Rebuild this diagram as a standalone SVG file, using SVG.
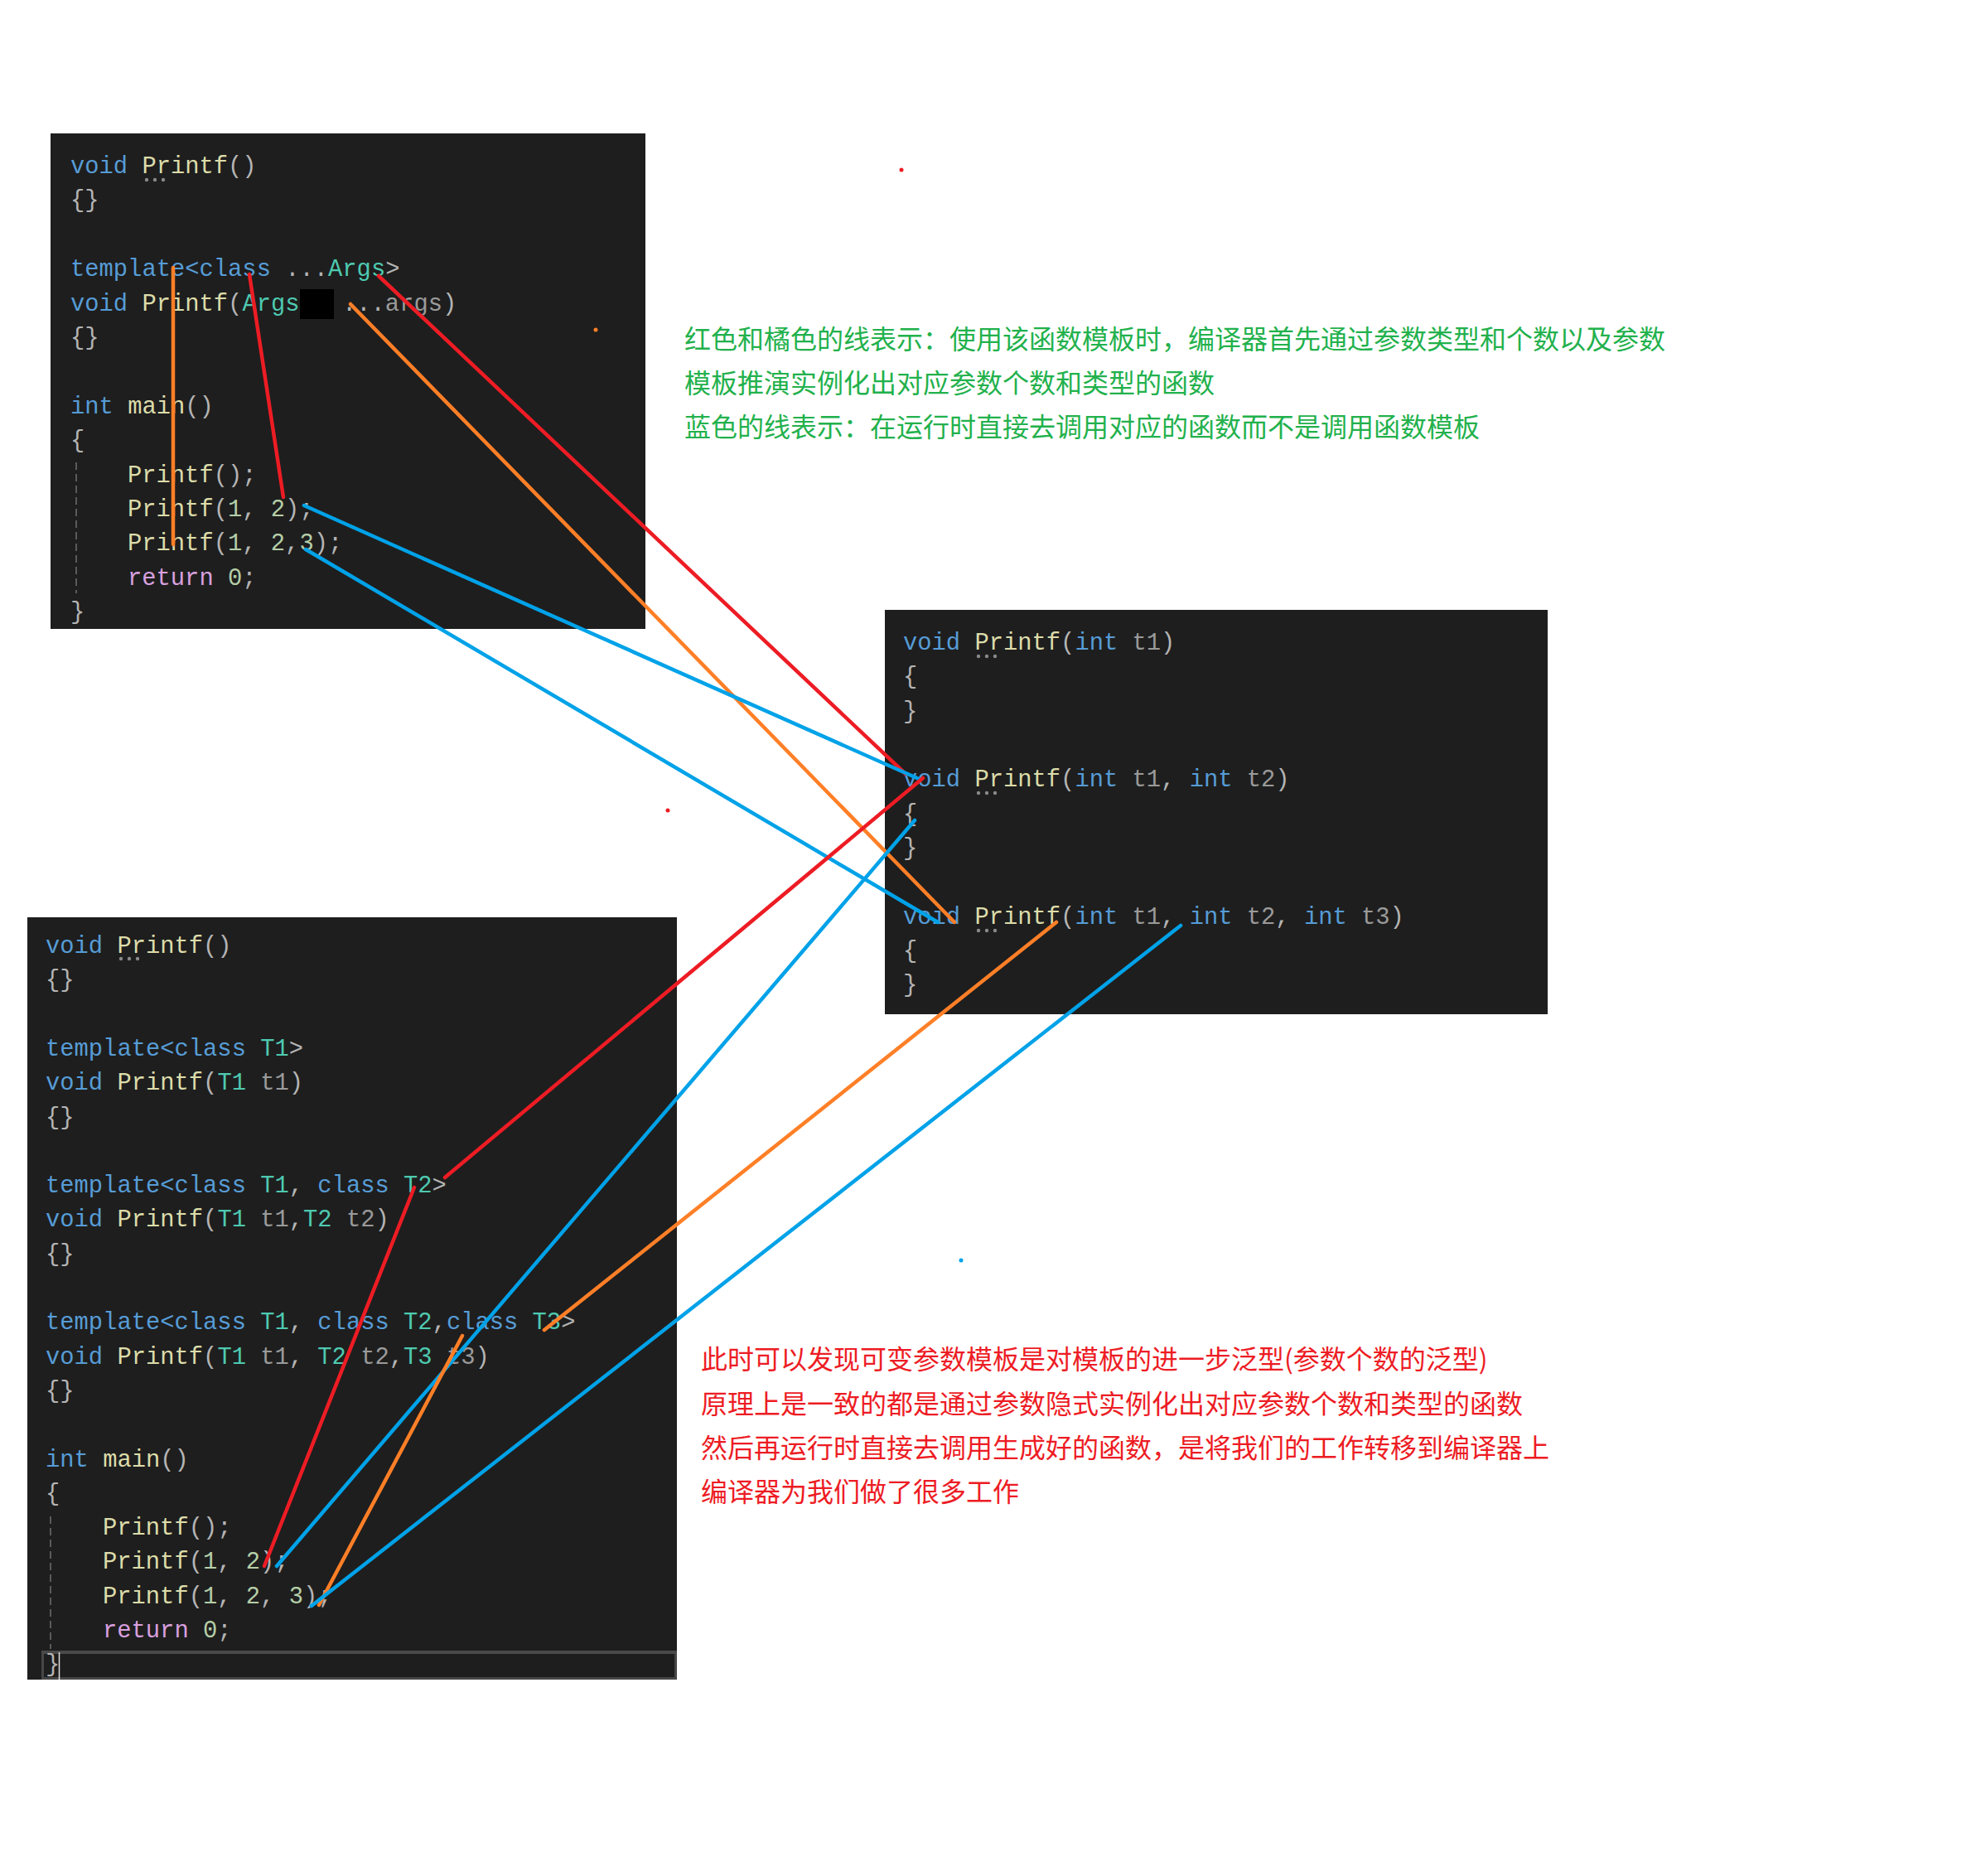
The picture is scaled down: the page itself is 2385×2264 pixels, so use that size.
<svg xmlns="http://www.w3.org/2000/svg" width="2385" height="2264" viewBox="0 0 2385 2264">
<style>
.code{font-family:"Liberation Mono","DejaVu Sans Mono",monospace;font-size:28.8px;fill:#b4b4b4}
.k{fill:#569cd6}.f{fill:#dcdcaa}.t{fill:#4ec9b0}.p{fill:#9a9a9a}.n{fill:#b5cea8}.r{fill:#d8a0df}
.bg{fill:#1e1e1e}
.dot{fill:#8a8a8a}
.guide{stroke:#5a5a5a;stroke-width:2;stroke-dasharray:9 5;fill:none}
.note{font-family:"Noto Sans CJK SC","Noto Sans",sans-serif;font-size:32px}
.green{fill:#22b14c}.red{fill:#ed1c24}
.ln{fill:none;stroke-width:4.5;stroke-linecap:round}
.lr{stroke:#ed1c24}.lo{stroke:#ff7f27}.lb{stroke:#00a2e8}
</style>
<rect width="2385" height="2264" fill="#ffffff"/>

<g id="code-variadic">
<rect class="bg" x="61" y="161" width="718" height="598"/>
<circle class="dot" cx="177" cy="217" r="2.2"/><circle class="dot" cx="187" cy="217" r="2.2"/><circle class="dot" cx="197" cy="217" r="2.2"/>
<line class="guide" x1="92" y1="558" x2="92" y2="716"/>
<text class="code" xml:space="preserve"><tspan x="85" y="209"><tspan class="k">void</tspan> <tspan class="f">Printf</tspan>()</tspan><tspan x="85" y="250">{}</tspan><tspan x="85" y="333"><tspan class="k">template&lt;class</tspan> ...<tspan class="t">Args</tspan>&gt;</tspan><tspan x="85" y="375"><tspan class="k">void</tspan> <tspan class="f">Printf</tspan>(<tspan class="t">Args</tspan></tspan><tspan x="413" y="375">...<tspan class="p">args</tspan>)</tspan><tspan x="85" y="416">{}</tspan><tspan x="85" y="499"><tspan class="k">int</tspan> <tspan class="f">main</tspan>()</tspan><tspan x="85" y="540">{</tspan><tspan x="154" y="582"><tspan class="f">Printf</tspan>();</tspan><tspan x="154" y="623"><tspan class="f">Printf</tspan>(<tspan class="n">1</tspan>, <tspan class="n">2</tspan>);</tspan><tspan x="154" y="664"><tspan class="f">Printf</tspan>(<tspan class="n">1</tspan>, <tspan class="n">2</tspan>,<tspan class="n">3</tspan>);</tspan><tspan x="154" y="706"><tspan class="r">return</tspan> <tspan class="n">0</tspan>;</tspan><tspan x="85" y="747">}</tspan></text>
<rect x="362" y="349" width="41" height="36" fill="#000000"/>
</g>

<g id="code-instantiated">
<rect class="bg" x="1068" y="736" width="800" height="488"/>
<circle class="dot" cx="1181" cy="792" r="2.2"/><circle class="dot" cx="1191" cy="792" r="2.2"/><circle class="dot" cx="1201" cy="792" r="2.2"/>
<circle class="dot" cx="1181" cy="957" r="2.2"/><circle class="dot" cx="1191" cy="957" r="2.2"/><circle class="dot" cx="1201" cy="957" r="2.2"/>
<circle class="dot" cx="1181" cy="1123" r="2.2"/><circle class="dot" cx="1191" cy="1123" r="2.2"/><circle class="dot" cx="1201" cy="1123" r="2.2"/>
<text class="code" xml:space="preserve"><tspan x="1090" y="784"><tspan class="k">void</tspan> <tspan class="f">Printf</tspan>(<tspan class="k">int</tspan> <tspan class="p">t1</tspan>)</tspan><tspan x="1090" y="825">{</tspan><tspan x="1090" y="867">}</tspan><tspan x="1090" y="949"><tspan class="k">void</tspan> <tspan class="f">Printf</tspan>(<tspan class="k">int</tspan> <tspan class="p">t1</tspan>, <tspan class="k">int</tspan> <tspan class="p">t2</tspan>)</tspan><tspan x="1090" y="991">{</tspan><tspan x="1090" y="1032">}</tspan><tspan x="1090" y="1115"><tspan class="k">void</tspan> <tspan class="f">Printf</tspan>(<tspan class="k">int</tspan> <tspan class="p">t1</tspan>, <tspan class="k">int</tspan> <tspan class="p">t2</tspan>, <tspan class="k">int</tspan> <tspan class="p">t3</tspan>)</tspan><tspan x="1090" y="1156">{</tspan><tspan x="1090" y="1197">}</tspan></text>
</g>

<g id="code-fixed-templates">
<rect class="bg" x="33" y="1107" width="784" height="920"/>
<circle class="dot" cx="146" cy="1157" r="2.2"/><circle class="dot" cx="156" cy="1157" r="2.2"/><circle class="dot" cx="166" cy="1157" r="2.2"/>
<line class="guide" x1="61" y1="1830" x2="61" y2="1990"/>
<rect x="51.5" y="1994" width="764" height="31.5" fill="none" stroke="#464646" stroke-width="3"/>
<line x1="50" y1="1994" x2="817" y2="1994" stroke="#4a4a4a" stroke-width="4"/>
<line x1="71.5" y1="1994" x2="71.5" y2="2027" stroke="#e0e0e0" stroke-width="1.5"/>
<text class="code" xml:space="preserve"><tspan x="55" y="1150"><tspan class="k">void</tspan> <tspan class="f">Printf</tspan>()</tspan><tspan x="55" y="1191">{}</tspan><tspan x="55" y="1274"><tspan class="k">template&lt;class</tspan> <tspan class="t">T1</tspan>&gt;</tspan><tspan x="55" y="1315"><tspan class="k">void</tspan> <tspan class="f">Printf</tspan>(<tspan class="t">T1</tspan> <tspan class="p">t1</tspan>)</tspan><tspan x="55" y="1357">{}</tspan><tspan x="55" y="1439"><tspan class="k">template&lt;class</tspan> <tspan class="t">T1</tspan>, <tspan class="k">class</tspan> <tspan class="t">T2</tspan>&gt;</tspan><tspan x="55" y="1480"><tspan class="k">void</tspan> <tspan class="f">Printf</tspan>(<tspan class="t">T1</tspan> <tspan class="p">t1</tspan>,<tspan class="t">T2</tspan> <tspan class="p">t2</tspan>)</tspan><tspan x="55" y="1522">{}</tspan><tspan x="55" y="1604"><tspan class="k">template&lt;class</tspan> <tspan class="t">T1</tspan>, <tspan class="k">class</tspan> <tspan class="t">T2</tspan>,<tspan class="k">class</tspan> <tspan class="t">T3</tspan>&gt;</tspan><tspan x="55" y="1646"><tspan class="k">void</tspan> <tspan class="f">Printf</tspan>(<tspan class="t">T1</tspan> <tspan class="p">t1</tspan>, <tspan class="t">T2</tspan> <tspan class="p">t2</tspan>,<tspan class="t">T3</tspan> <tspan class="p">t3</tspan>)</tspan><tspan x="55" y="1687">{}</tspan><tspan x="55" y="1770"><tspan class="k">int</tspan> <tspan class="f">main</tspan>()</tspan><tspan x="55" y="1811">{</tspan><tspan x="124" y="1852"><tspan class="f">Printf</tspan>();</tspan><tspan x="124" y="1893"><tspan class="f">Printf</tspan>(<tspan class="n">1</tspan>, <tspan class="n">2</tspan>);</tspan><tspan x="124" y="1935"><tspan class="f">Printf</tspan>(<tspan class="n">1</tspan>, <tspan class="n">2</tspan>, <tspan class="n">3</tspan>);</tspan><tspan x="124" y="1976"><tspan class="r">return</tspan> <tspan class="n">0</tspan>;</tspan><tspan x="55" y="2017">}</tspan></text>
</g>

<g id="note-lines">
<text class="note green"><tspan x="826" y="421">红色和橘色的线表示：使用该函数模板时，编译器首先通过参数类型和个数以及参数</tspan><tspan x="826" y="474">模板推演实例化出对应参数个数和类型的函数</tspan><tspan x="826" y="527">蓝色的线表示：在运行时直接去调用对应的函数而不是调用函数模板</tspan></text>
</g>

<g id="note-conclusion">
<text class="note red"><tspan x="846" y="1652">此时可以发现可变参数模板是对模板的进一步泛型(参数个数的泛型)</tspan><tspan x="846" y="1706">原理上是一致的都是通过参数隐式实例化出对应参数个数和类型的函数</tspan><tspan x="846" y="1759">然后再运行时直接去调用生成好的函数，是将我们的工作转移到编译器上</tspan><tspan x="846" y="1812">编译器为我们做了很多工作</tspan></text>
</g>

<g id="connectors">
<line class="ln lo" x1="209" y1="323" x2="209" y2="657"/>
<line class="ln lr" x1="301" y1="331" x2="342" y2="600"/>
<line class="ln lr" x1="457" y1="333" x2="1093" y2="934"/>
<line class="ln lo" x1="423" y1="367" x2="1152" y2="1113"/>
<line class="ln lb" x1="367" y1="610" x2="1109" y2="940"/>
<line class="ln lb" x1="369" y1="663" x2="1132" y2="1113"/>
<line class="ln lr" x1="537" y1="1421" x2="1114" y2="939"/>
<line class="ln lr" x1="500" y1="1433" x2="319" y2="1890"/>
<line class="ln lb" x1="334" y1="1890" x2="1104" y2="990"/>
<line class="ln lo" x1="657" y1="1605" x2="1275" y2="1113"/>
<line class="ln lo" x1="385" y1="1937" x2="558" y2="1612"/>
<line class="ln lb" x1="376" y1="1938" x2="1425" y2="1117"/>
</g>

<circle cx="1088" cy="205" r="2.5" fill="#ed1c24"/>
<circle cx="719" cy="398" r="2.5" fill="#ff7f27"/>
<circle cx="806" cy="978" r="2.5" fill="#ed1c24"/>
<circle cx="1160" cy="1521" r="2.5" fill="#00a2e8"/>
</svg>
